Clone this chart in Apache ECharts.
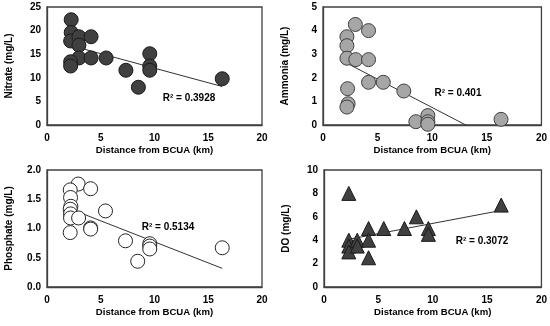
<!DOCTYPE html>
<html>
<head>
<meta charset="utf-8">
<script src="https://cdn.jsdelivr.net/npm/echarts@6/dist/echarts.min.js"></script>
<style>html,body{margin:0;padding:0;background:#fff}#c{width:550px;height:326px}</style>
</head>
<body>
<div id="c"></div>
<script>
// Nitrate
const nitrateX = [2.25, 2.25, 2.2, 2.97, 2.97, 2.97, 4.1, 4.1, 5.5, 2.2, 2.2, 7.34, 8.5, 9.56, 9.56, 9.56, 16.3];
const nitrateY = [22.3, 19.6, 17.8, 18.7, 16.9, 14.2, 18.7, 14.2, 14.2, 13.4, 12.5, 11.6, 8.0, 15.1, 12.5, 11.6, 9.8];
// Ammonia
const ammoniaX = [2.96, 4.17, 2.19, 2.19, 2.19, 3.0, 4.17, 4.17, 5.52, 7.4, 2.25, 2.3, 2.19, 8.5, 9.6, 9.6, 9.6, 16.3];
const ammoniaY = [4.26, 4.0, 3.74, 3.36, 2.83, 2.77, 2.77, 1.81, 1.81, 1.44, 1.54, 0.9, 0.76, 0.14, 0.4, 0.14, 0.03, 0.24];
// Phosphate
const phosphateX = [2.9, 2.16, 4.06, 2.19, 2.22, 2.16, 2.19, 2.19, 2.94, 5.44, 2.16, 4.06, 4.06, 7.3, 8.44, 9.56, 9.56, 9.56, 16.3];
const phosphateY = [1.76, 1.66, 1.68, 1.53, 1.38, 1.33, 1.25, 1.18, 1.18, 1.30, 0.93, 1.01, 0.99, 0.79, 0.44, 0.74, 0.70, 0.65, 0.67];
// DO
const doX = [2.28, 2.28, 2.28, 2.28, 3.06, 3.06, 4.1, 4.1, 4.1, 5.5, 7.4, 8.5, 9.6, 9.6, 16.3];
const doY = [8.0, 4.0, 3.5, 3.0, 4.0, 3.5, 5.0, 4.0, 2.5, 5.0, 5.0, 6.0, 5.0, 4.5, 7.0];

const xTitle = 'Distance from BCUA (km)';
const yTitles = ['Nitrate (mg/L)', 'Ammonia (mg/L)', 'Phosphate (mg/L)', 'DO (mg/L)'];
const r2Labels = ['R\u00b2 = 0.3928', 'R\u00b2 = 0.401', 'R\u00b2 = 0.5134', 'R\u00b2 = 0.3072'];
const yMax = [25, 5, 2.0, 10];
const yStep = [5, 1, 0.5, 2];

function fit(xs, ys) {
  const n = xs.length;
  let sx = 0, sy = 0, sxx = 0, sxy = 0;
  for (let i = 0; i < n; i++) { sx += xs[i]; sy += ys[i]; sxx += xs[i]*xs[i]; sxy += xs[i]*ys[i]; }
  const b = (n*sxy - sx*sy) / (n*sxx - sx*sx);
  const a = (sy - b*sx) / n;
  const x0 = Math.min(...xs), x1 = Math.max(...xs);
  return [[x0, a + b*x0], [x1, a + b*x1]];
}

const panels = [
  {x: nitrateX, y: nitrateY, sym: 'circle', fill: '#404040', stroke: '#1a1a1a'},
  {x: ammoniaX, y: ammoniaY, sym: 'circle', fill: '#a6a6a6', stroke: '#404040'},
  {x: phosphateX, y: phosphateY, sym: 'circle', fill: '#ffffff', stroke: '#262626'},
  {x: doX, y: doY, sym: 'triangle', fill: '#404040', stroke: '#1a1a1a'}
];

const grids = [
  {left: 47, top: 7, width: 215, height: 118},
  {left: 323, top: 7, width: 219, height: 118},
  {left: 47, top: 170, width: 215, height: 117},
  {left: 324, top: 170, width: 218, height: 117}
];
const r2Pos = [[189, 98], [458, 93], [168, 227], [482, 241]];

const font = 'Liberation Sans, Arial, sans-serif';
const txt = {color: '#000', fontFamily: font, fontWeight: 'bold', fontSize: 10};

const option = {
  animation: false,
  backgroundColor: '#fff',
  grid: grids.map(g => Object.assign({show: true, borderColor: '#404040', borderWidth: 1.3, backgroundColor: 'transparent'}, g)),
  xAxis: grids.map((g, i) => ({
    gridIndex: i, type: 'value', min: 0, max: 20, interval: 5,
    name: xTitle, nameLocation: 'middle', nameGap: 20,
    nameTextStyle: Object.assign({}, txt, {fontSize: 9.6}),
    axisLine: {show: true, lineStyle: {color: '#404040', width: 1.3}},
    axisTick: {show: false}, splitLine: {show: false},
    axisLabel: Object.assign({margin: 8, formatter: v => String(v)}, txt)
  })),
  yAxis: grids.map((g, i) => ({
    gridIndex: i, type: 'value', min: 0, max: yMax[i], interval: yStep[i],
    name: yTitles[i], nameLocation: 'middle', nameGap: 33,
    nameTextStyle: Object.assign({}, txt),
    axisLine: {show: true, lineStyle: {color: '#404040', width: 1.3}},
    axisTick: {show: false}, splitLine: {show: false},
    axisLabel: Object.assign({margin: 6, formatter: v => i === 2 ? v.toFixed(1) : String(v)}, txt)
  })),
  series: [],
  graphic: r2Pos.map((p, i) => ({
    type: 'text', x: p[0], y: p[1],
    style: {text: r2Labels[i], fill: '#000', font: 'bold 10px ' + font, textAlign: 'center', textVerticalAlign: 'middle'}
  }))
};

panels.forEach((p, i) => {
  option.series.push({
    type: 'line', xAxisIndex: i, yAxisIndex: i, data: fit(p.x, p.y),
    showSymbol: false, symbol: 'none', clip: true,
    lineStyle: {color: '#333', width: 1}, z: 1
  });
  option.series.push({
    type: 'scatter', xAxisIndex: i, yAxisIndex: i,
    data: p.x.map((v, k) => [v, p.y[k]]),
    symbol: p.sym, symbolSize: 14,
    itemStyle: {color: p.fill, borderColor: p.stroke, borderWidth: 1, opacity: 1}, z: 2
  });
});

const chart = echarts.init(document.getElementById('c'), null, {renderer: 'canvas'});
chart.setOption(option);
</script>
</body>
</html>
